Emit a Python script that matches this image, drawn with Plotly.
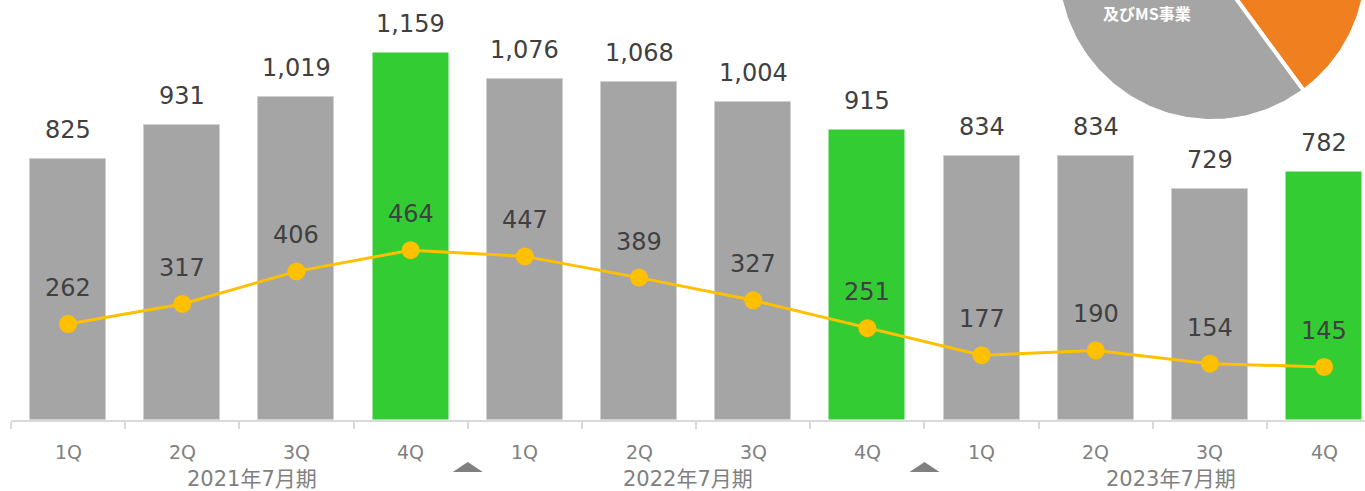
import numpy as np
import plotly.graph_objects as go

# ---- data ----
quarters = ["1Q", "2Q", "3Q", "4Q"] * 3
fiscal_years = ["2021年7月期", "2022年7月期", "2023年7月期"]
year_label_pos = [1.61, 5.43, 9.66]
bar_values = [825, 931, 1019, 1159, 1076, 1068, 1004, 915, 834, 834, 729, 782]
line_values = [262, 317, 406, 464, 447, 389, 327, 251, 177, 190, 154, 145]
gap_markers = [3.5, 7.5]
pie_labels = ["その他", "及びMS事業", "other"]
pie_shares = [39.9, 55.6, 4.5]

GRAY = "#a5a5a5"
GREEN = "#33cc33"
ORANGE = "#ef7f1f"
YELLOW = "#ffc000"
LABEL = "#404040"
TICK = "#808080"

x = list(range(len(bar_values)))
bar_colors = [GREEN if q == "4Q" else GRAY for q in quarters]
bar_lines = ["rgba(0,0,0,0)" if q == "4Q" else "#d0d0d0" for q in quarters]

fig = go.Figure()
fig.add_trace(go.Bar(
    x=x, y=bar_values, width=0.665,
    marker=dict(color=bar_colors, line=dict(color=bar_lines, width=1)),
    hoverinfo="skip", showlegend=False,
))
fig.add_trace(go.Scatter(
    x=x, y=line_values, yaxis="y2", mode="lines+markers",
    line=dict(color=YELLOW, width=3),
    marker=dict(color=YELLOW, size=18),
    hoverinfo="skip", showlegend=False,
))

# ---- pie (partial, clipped at top) drawn on its own overlay axes ----
cx, cy, r = 1212, -34, 155
colors = [ORANGE, GRAY, "#d9d9d9"]
start = 0.0
for share, col in zip(pie_shares, colors):
    a0 = start
    a1 = start + share / 100 * 360
    th = np.radians(np.linspace(a0, a1, 160))
    px = np.concatenate([[cx], cx + r * np.sin(th), [cx]])
    py = np.concatenate([[cy], cy - r * np.cos(th), [cy]])
    fig.add_trace(go.Scatter(
        x=px, y=py, xaxis="x3", yaxis="y3", mode="lines", fill="toself",
        fillcolor=col, line=dict(color="white", width=4),
        hoverinfo="skip", showlegend=False,
    ))
    start = a1

annotations = []
for xi, v in zip(x, bar_values):
    annotations.append(dict(x=xi, y=v, xref="x", yref="y", text=f"{v:,}",
                            showarrow=False, yanchor="middle", yshift=29,
                            font=dict(family="DejaVu Sans", size=24, color=LABEL)))
for xi, v in zip(x, line_values):
    annotations.append(dict(x=xi, y=v, xref="x", yref="y2", text=f"{v:,}",
                            showarrow=False, yanchor="middle", yshift=36,
                            font=dict(family="DejaVu Sans", size=24, color=LABEL)))
for xi, q in zip(x, quarters):
    annotations.append(dict(x=xi, y=0, xref="x", yref="paper", text=q,
                            showarrow=False, yanchor="middle", yshift=-32,
                            font=dict(family="DejaVu Sans", size=19, color=TICK)))
for xp, fy in zip(year_label_pos, fiscal_years):
    annotations.append(dict(x=xp, y=0, xref="x", yref="paper", text=fy,
                            showarrow=False, yanchor="middle", yshift=-59,
                            font=dict(family="DejaVu Sans, Noto Sans CJK JP", size=21, color=TICK)))
annotations.append(dict(x=1147, y=13, xref="x3", yref="y3", text="<b>" + pie_labels[1] + "</b>",
                        showarrow=False, font=dict(family="Noto Sans CJK JP", size=16, color="white")))

shapes = []
for g in gap_markers:
    shapes.append(dict(type="path", xref="x", yref="paper", xsizemode="pixel", ysizemode="pixel",
                       xanchor=g, yanchor=0, path="M-15,-52 L15,-52 L0,-42 Z",
                       fillcolor=TICK, line=dict(width=0)))

fig.update_layout(
    width=1365, height=491,
    margin=dict(l=11, r=0, t=0, b=71),
    paper_bgcolor="white", plot_bgcolor="white",
    bargap=0,
    xaxis=dict(range=[-0.5, 11.358], tickmode="array",
               tickvals=[i - 0.5 for i in range(13)], ticktext=[""] * 13,
               ticks="outside", ticklen=7, tickwidth=2, tickcolor="#d9d9d9",
               showline=True, linecolor="#d9d9d9", linewidth=2,
               showgrid=False, zeroline=False, showticklabels=False, fixedrange=True),
    yaxis=dict(range=[0, 1326], visible=False, showgrid=False, fixedrange=True),
    yaxis2=dict(range=[0, 1147.5], overlaying="y", visible=False, showgrid=False, fixedrange=True),
    xaxis3=dict(range=[11, 1365], overlaying="x", anchor="y3", visible=False, fixedrange=True),
    yaxis3=dict(range=[420, 0], overlaying="y", anchor="x3", visible=False, fixedrange=True),
    annotations=annotations,
    shapes=shapes,
)

fig.write_html("out.html")
